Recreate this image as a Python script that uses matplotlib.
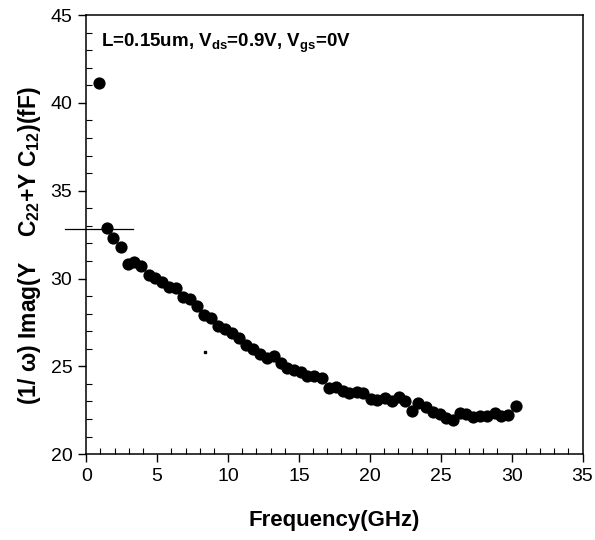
import matplotlib
matplotlib.use("Agg")
import matplotlib.pyplot as plt
from matplotlib.ticker import MultipleLocator

plt.rcParams['font.family'] = ['Liberation Sans', 'DejaVu Sans']
plt.rcParams['mathtext.fontset'] = 'custom'
plt.rcParams['mathtext.rm'] = 'Liberation Sans:bold'
plt.rcParams['mathtext.it'] = 'Liberation Sans:bold'
plt.rcParams['mathtext.bf'] = 'Liberation Sans:bold'

# measured points (GHz, fF)
freq = [0.92, 1.46, 1.85, 2.42, 2.91, 3.38, 3.87, 4.39, 4.86, 5.37,
        5.87, 6.34, 6.85, 7.32, 7.84, 8.33, 8.80, 9.32, 9.79, 10.26,
        10.77, 11.25, 11.74, 12.25, 12.77, 13.24, 13.70, 14.15, 14.65, 15.13,
        15.60, 16.06, 16.60, 17.13, 17.61, 18.08, 18.54, 19.06, 19.53, 20.05,
        20.51, 21.06, 21.53, 22.06, 22.50, 22.94, 23.40, 23.94, 24.42, 24.93,
        25.40, 25.87, 26.34, 26.81, 27.27, 27.80, 28.26, 28.80, 29.27, 29.74,
        30.33]
cap = [41.13, 32.89, 32.32, 31.77, 30.80, 30.95, 30.71, 30.19, 30.04, 29.78,
       29.53, 29.44, 28.96, 28.81, 28.43, 27.92, 27.76, 27.31, 27.12, 26.87,
       26.62, 26.21, 25.96, 25.69, 25.45, 25.60, 25.18, 24.93, 24.81, 24.67,
       24.47, 24.44, 24.31, 23.78, 23.83, 23.60, 23.49, 23.55, 23.46, 23.12,
       23.08, 23.17, 23.04, 23.26, 23.02, 22.47, 22.89, 22.69, 22.41, 22.28,
       22.03, 21.94, 22.32, 22.28, 22.12, 22.16, 22.16, 22.32, 22.16, 22.22,
       22.73]

# short reference line near the left axis
ref_x = [-1.48, 3.3]
ref_y = [32.84, 32.84]

fig = plt.figure(figsize=(5.95, 5.4), dpi=100)
ax = fig.add_axes([0.145, 0.159, 0.834, 0.813])

ax.plot(freq, cap, 'o', color='black', markersize=8.8, markeredgewidth=0)
ax.plot(ref_x, ref_y, '-', color='black', linewidth=0.9, clip_on=False)
ax.plot([8.38], [25.81], 's', color='black', markersize=1.5)

ax.set_xlim(0, 35)
ax.set_ylim(20, 45)
ax.xaxis.set_major_locator(MultipleLocator(5))
ax.xaxis.set_minor_locator(MultipleLocator(1))
ax.yaxis.set_major_locator(MultipleLocator(5))
ax.yaxis.set_minor_locator(MultipleLocator(1))
ax.tick_params(which='major', direction='out', length=6, width=1,
               labelsize=14, pad=4)
ax.tick_params(which='minor', direction='in', length=4, width=0.8)
for s in ax.spines.values():
    s.set_linewidth(1.1)

ax.set_xlabel('Frequency(GHz)', fontsize=16, fontweight='bold', labelpad=18)
ax.set_ylabel('(1/ ω) Imag(Y    C$_{22}$+Y C$_{12}$)(fF)', fontsize=16.5,
              fontweight='bold')
ax.yaxis.set_label_coords(-0.088, 0.475)

ax.text(0.03, 0.935, 'L=0.15um, V$_{ds}$=0.9V, V$_{gs}$=0V',
        transform=ax.transAxes, fontsize=13.5, fontweight='bold',
        va='center', ha='left')

fig.savefig('out.png', dpi=100)
